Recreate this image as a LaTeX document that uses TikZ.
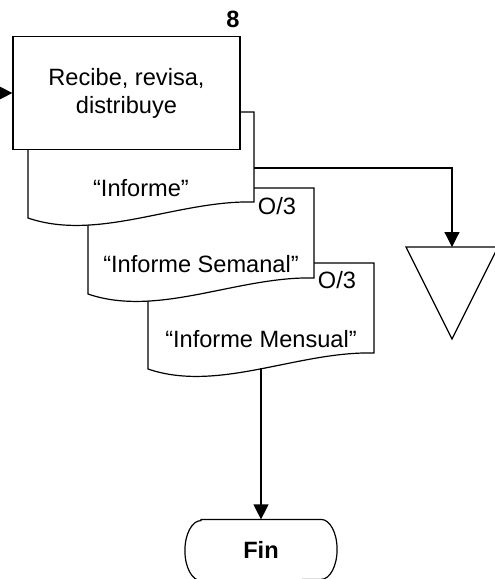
\documentclass[tikz,border=0pt]{standalone}
\usepackage{fontspec}
\setmainfont{Liberation Sans}
\usetikzlibrary{arrows.meta}

\newcommand{\docu}[4]{%
\draw[fill=white] (#2,#3) -- (#2+226,#3) -- (#2+226,#3+90) .. controls (#2+150,#3+88) and (#2+70,#3+130) .. (#2,#3+106) -- cycle;
\node[texto] (#1) at (#2+113,#3+76) {#4};
\coordinate (#1-e) at (#2+226,#3+56);
\coordinate (#1-s) at (#2+113,#3+105);
}

\begin{document}
\begin{tikzpicture}[x=0.5pt,y=-0.5pt,line width=0.6pt,
texto/.style={font=\fontsize{11.8}{14}\selectfont, align=center, inner sep=0pt},
negrita/.style={font=\fontsize{11.8}{14}\selectfont\bfseries, inner sep=0pt},
flecha/.style={-{Triangle[length=7.5pt,width=7.5pt]}}]
\useasboundingbox (0,0) rectangle (494,579);

\docu{inf3}{148}{263}{“Informe Mensual”}
\docu{inf2}{88}{188}{“Informe Semanal”}
\docu{inf1}{28}{112}{“Informe”}

\node[draw, fill=white, texto, minimum width=113.5pt, minimum height=56.5pt] (recibe) at (126.5,93) {Recibe, revisa,\\distribuye};
\node[negrita] (num) at (233,19) {8};
\node[texto] (o2) at (277,206) {O/3};
\node[texto] (o3) at (337,280) {O/3};

\draw (406,247) -- (498,247) -- (452,339) -- cycle;
\coordinate (archivo) at (452,247);

\node[negrita, minimum width=75.5pt, minimum height=30pt] (fin) at (261,550) {Fin};
\draw ([xshift=8pt]fin.north west) -- ([xshift=-8pt]fin.north east)
 arc[start angle=90, end angle=-90, x radius=8pt, y radius=15pt]
 -- ([xshift=8pt]fin.south west)
 arc[start angle=270, end angle=90, x radius=8pt, y radius=15pt] -- cycle;

\coordinate (entrada) at (-4,93);
\draw[flecha] (entrada) -- (recibe.west);
\draw[flecha] (inf1-e) -| (archivo);
\draw[flecha] (inf3-s) -- (fin.north);

\end{tikzpicture}
\end{document}
